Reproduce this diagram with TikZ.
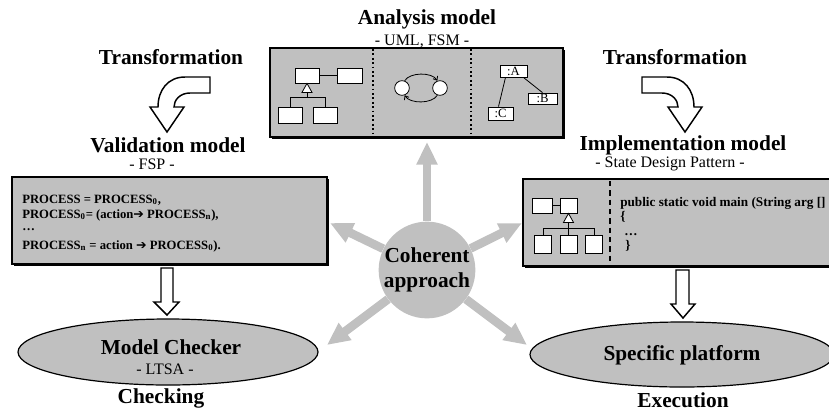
\documentclass[tikz,border=0pt]{standalone}
\usepackage{fontspec}
\setmainfont{Liberation Serif}
\newfontfamily\symfnt{DejaVu Sans}
\usetikzlibrary{arrows.meta,shapes.geometric,calc,shadows}
\definecolor{silver}{RGB}{192,192,192}
\begin{document}
\begin{tikzpicture}[x=0.75pt,y=-0.75pt,
  title/.style={font=\fontsize{16}{19}\selectfont\bfseries, inner sep=0pt},
  subtitle/.style={font=\fontsize{12}{14}\selectfont, inner sep=0pt},
  codeline/.style={font=\fontsize{9.5}{11.4}\selectfont\bfseries, inner sep=0pt, anchor=base west},
  javaline/.style={font=\fontsize{9.9}{12}\selectfont\bfseries, inner sep=0pt, anchor=base west},
  panel/.style={fill=silver, draw=black, line width=1.2pt, inner sep=0pt,
    drop shadow={shadow xshift=1.3pt, shadow yshift=-1.3pt, fill=black, opacity=1}},
  umlbox/.style={draw, fill=white, line width=0.6pt, inner sep=0pt},
  objbox/.style={draw, fill=white, line width=0.6pt, inner sep=0pt, font=\fontsize{9.5}{10}\selectfont},
  blockarrow/.style={draw=black, fill=white, line width=1.1pt, line join=miter},
  ray/.style={draw=silver, line width=6.5pt, -{Triangle[width=15pt,length=17pt]}},
  platform/.style={ellipse, draw=black, fill=silver, line width=0.9pt, inner sep=0pt}]
\useasboundingbox (0,0) rectangle (829,412);

% ---------- titles ----------
\node[title] (tana) at (427,19) {Analysis model};
\node[subtitle] (sana) at (422,41) {- UML, FSM -};
\node[title] (ttl) at (171,57) {Transformation};
\node[title] (ttr) at (675,57) {Transformation};
\node[title] (tval) at (168,145) {Validation model};
\node[subtitle] (sval) at (152,164) {- FSP -};
\node[title] (timp) at (683,145) {Implementation model};
\node[subtitle] (simp) at (670,164) {- State Design Pattern -};

% ---------- analysis box ----------
\node[panel, minimum width=219.75pt, minimum height=66.75pt] (ana) at (416.5,92.5) {};
\draw[dotted, line width=1.3pt] (373,49) -- (373,136);
\draw[dotted, line width=1.3pt] (471,49) -- (471,136);
% class diagram
\node[umlbox, minimum width=18pt, minimum height=11.25pt] (b1) at (307,75.5) {};
\node[umlbox, minimum width=18.75pt, minimum height=11.25pt] (b2) at (349.5,75.5) {};
\node[umlbox, minimum width=18pt, minimum height=12pt] (b3) at (290,115) {};
\node[umlbox, minimum width=18pt, minimum height=12pt] (b4) at (325,115) {};
\draw[line width=0.6pt] (b1.east) -- (b2.west);
\draw[line width=0.6pt, fill=white] (b1.south) -- ++(5,9) -- ++(-10,0) -- cycle;
\draw[line width=0.6pt] (307,92) -- (307,97);
\draw[line width=0.6pt] (290,97) -- (325,97);
\draw[line width=0.6pt] (290,97) -- (b3.north);
\draw[line width=0.6pt] (325,97) -- (b4.north);
% state machine
\node[circle, draw, fill=white, line width=0.6pt, minimum size=11pt, inner sep=0pt] (s1) at (402,88) {};
\node[circle, draw, fill=white, line width=0.6pt, minimum size=11pt, inner sep=0pt] (s2) at (440,88) {};
\draw[line width=0.6pt, -{Straight Barb[length=2.5pt,width=4pt]}] (s1.70) .. controls (410,72) and (432,72) .. (s2.110);
\draw[line width=0.6pt, -{Straight Barb[length=2.5pt,width=4pt]}] (s2.250) .. controls (432,104) and (410,104) .. (s1.290);
% object diagram
\node[objbox, minimum width=20.25pt, minimum height=9pt] (oa) at (513.5,71) {:A};
\node[objbox, minimum width=21.75pt, minimum height=8.25pt] (ob) at (542.5,98.5) {:B};
\node[objbox, minimum width=18.75pt, minimum height=9.75pt] (oc) at (500.5,113.5) {:C};
\draw[line width=0.6pt] ($(oa.south)+(-8,0)$) -- ($(oc.north)+(-2,0)$);
\draw[line width=0.6pt] ($(oa.south east)+(-4,0)$) -- (ob.north);

% ---------- transformation arrows ----------
\draw[blockarrow] (210,77) -- (185,77) .. controls (168,77) and (158,90) .. (158,107)
  -- (150,107) -- (167,132) -- (184,107) -- (174,107)
  .. controls (174,100) and (180,93) .. (190,93) -- (210,93) -- cycle;
\draw[blockarrow] (642,77) -- (667,77) .. controls (684,77) and (694,90) .. (694,107)
  -- (702,107) -- (685,132) -- (668,107) -- (678,107)
  .. controls (678,100) and (672,93) .. (662,93) -- (642,93) -- cycle;

% ---------- validation box ----------
\node[panel, minimum width=236.25pt, minimum height=65.25pt] (val) at (169.5,220.5) {};
\node[codeline] (v1) at (22,203) {PROCESS = PROCESS\textsubscript{0},};
\node[codeline] (v2) at (22,218) {PROCESS\textsubscript{0}= (action{\symfnt\bfseries ➔} PROCESS\textsubscript{n}),};
\node[codeline] (v3) at (22,230) {\dots};
\node[codeline] (v4) at (22,249) {PROCESS\textsubscript{n} = action {\symfnt\bfseries ➔} PROCESS\textsubscript{0}).};

% ---------- implementation box ----------
\node[panel, minimum width=234pt, minimum height=65.25pt] (imp) at (679,222.5) {};
\draw[dashed, line width=1.3pt, dash pattern=on 4pt off 3pt] (610,181) -- (610,265);
\node[umlbox, minimum width=15pt, minimum height=11.25pt] (i1) at (542,205.5) {};
\node[umlbox, minimum width=12.75pt, minimum height=11.25pt] (i2) at (568.5,205.5) {};
\node[umlbox, minimum width=12.75pt, minimum height=13.5pt] (i3) at (543,244) {};
\node[umlbox, minimum width=12.75pt, minimum height=13.5pt] (i4) at (568.5,244) {};
\node[umlbox, minimum width=12.75pt, minimum height=13.5pt] (i5) at (594,244) {};
\draw[line width=0.6pt] (i1.east) -- (i2.west);
\draw[line width=0.6pt, fill=white] (i2.south) -- ++(5,9) -- ++(-10,0) -- cycle;
\draw[line width=0.6pt] (568.5,222) -- (568.5,228);
\draw[line width=0.6pt] (543,228) -- (594,228);
\draw[line width=0.6pt] (543,228) -- (i3.north);
\draw[line width=0.6pt] (568.5,228) -- (i4.north);
\draw[line width=0.6pt] (594,228) -- (i5.north);
\node[javaline] (c1) at (620,206) {public static void main (String arg []};
\node[javaline] (c2) at (620,220) {\{};
\node[javaline] (c3) at (624,235) {\dots};
\node[javaline] (c4) at (625,249) {\}};

% ---------- down arrows ----------
\draw[blockarrow] (161,268) -- (173,268) -- (173,302) -- (179,302) -- (167,315) -- (154,302) -- (161,302) -- cycle;
\draw[blockarrow] (676,270) -- (689,270) -- (689,304) -- (695,304) -- (683,318) -- (671,304) -- (676,304) -- cycle;

% ---------- platforms ----------
\node[platform, minimum width=225pt, minimum height=49.5pt] (mc) at (168,352) {};
\node[title] (tmc) at (171,347) {Model Checker};
\node[subtitle] (smc) at (165,369) {- LTSA -};
\node[title] (tchk) at (161,398) {Checking};
\node[platform, minimum width=228pt, minimum height=48.75pt] (sp) at (682,354.5) {};
\node[title] (tsp) at (682,355) {Specific platform};
\node[title] (texe) at (683,400) {Execution};

% ---------- coherent approach ----------
\node[circle, fill=silver, minimum size=72pt, inner sep=0pt, align=center,
  font=\fontsize{16}{18.75}\selectfont\bfseries] (coh) at (427,270) {Coherent\\approach};
\coordinate (tu) at (427,142);
\coordinate (tul) at (330,223);
\coordinate (tur) at (522,223);
\coordinate (tll) at (327,345);
\coordinate (tlr) at (527,345);
\draw[ray] (coh) -- (tu);
\draw[ray] (coh) -- (tul);
\draw[ray] (coh) -- (tur);
\draw[ray] (coh) -- (tll);
\draw[ray] (coh) -- (tlr);
\end{tikzpicture}
\end{document}
